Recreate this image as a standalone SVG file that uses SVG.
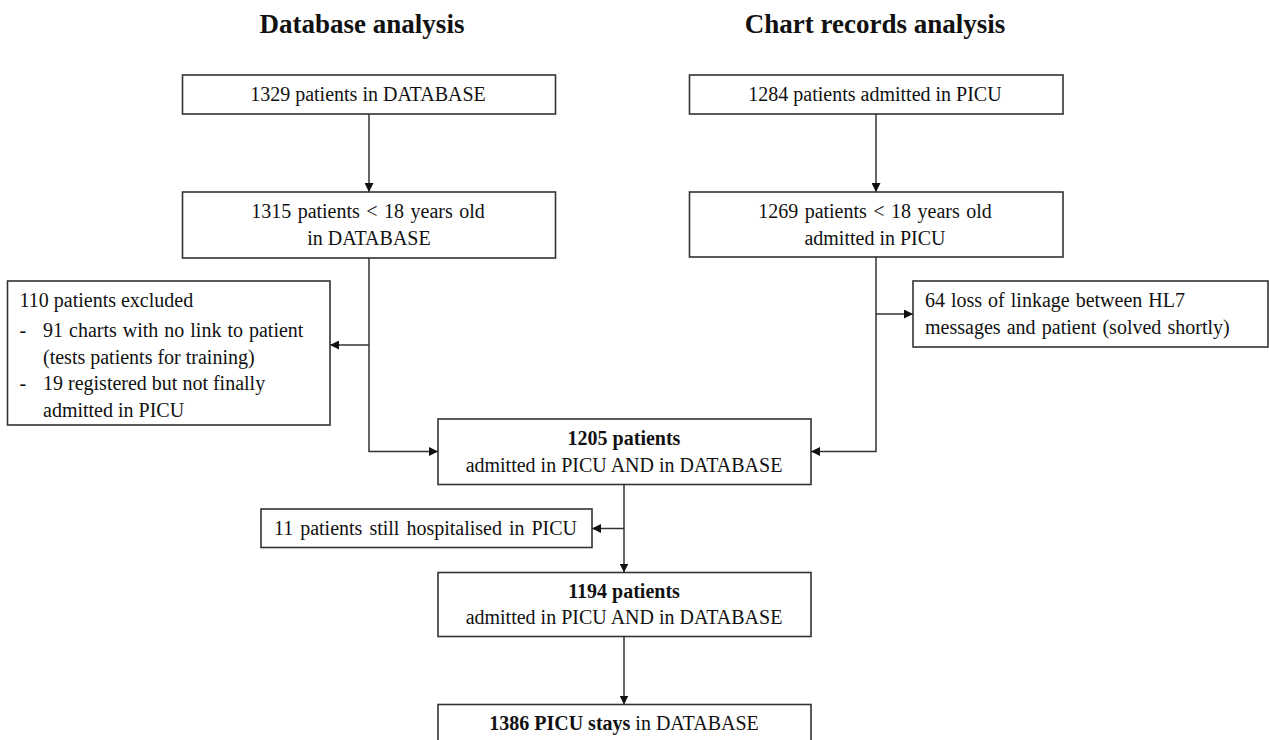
<svg xmlns="http://www.w3.org/2000/svg" width="1269" height="740" viewBox="0 0 1269 740">
<defs>
<style>
.box{fill:#fff;stroke:#333;stroke-width:1.6}
.t{font-family:"Liberation Serif","Times New Roman",serif;font-size:20px;fill:#111}
.c{text-anchor:middle}
.b{font-weight:bold}
.title{font-family:"Liberation Serif","Times New Roman",serif;font-size:27px;font-weight:bold;fill:#111;text-anchor:middle}
.ln{fill:none;stroke:#333;stroke-width:1.5}
</style>
<marker id="ah" viewBox="0 0 10 10" refX="10" refY="5" markerWidth="9" markerHeight="9" markerUnits="userSpaceOnUse" orient="auto">
<path d="M0,0 L10,5 L0,10 z" fill="#111"/>
</marker>
</defs>
<rect width="1269" height="740" fill="#fff"/>
<text class="title" x="362" y="33">Database analysis</text>
<text class="title" x="875" y="33">Chart records analysis</text>

<g id="connectors">
<path class="ln" d="M369,114 V192" marker-end="url(#ah)"/>
<path class="ln" d="M876,114 V192" marker-end="url(#ah)"/>
<path class="ln" d="M369,258 V451.5 H438" marker-end="url(#ah)"/>
<path class="ln" d="M369,345 H330" marker-end="url(#ah)"/>
<path class="ln" d="M876,257 V451.5 H811" marker-end="url(#ah)"/>
<path class="ln" d="M876,314 H913" marker-end="url(#ah)"/>
<path class="ln" d="M624,484.5 V572.5" marker-end="url(#ah)"/>
<path class="ln" d="M624,528.5 H592" marker-end="url(#ah)"/>
<path class="ln" d="M624,636.5 V704.5" marker-end="url(#ah)"/>
</g>

<g id="n1329">
<rect class="box" x="182.5" y="75" width="373" height="39"/>
<text class="t c" x="368" y="101">1329 patients  in DATABASE</text>
</g>
<g id="n1284">
<rect class="box" x="689.5" y="75" width="373.5" height="39"/>
<text class="t c" x="875" y="101">1284 patients  admitted  in  PICU</text>
</g>
<g id="n1315">
<rect class="box" x="182.5" y="192" width="373" height="66"/>
<text class="t c" x="368" y="218" word-spacing="1.5">1315 patients  &lt; 18 years  old</text>
<text class="t c" x="369" y="245">in DATABASE</text>
</g>
<g id="n1269">
<rect class="box" x="689.5" y="192" width="373.5" height="65"/>
<text class="t c" x="875" y="218" word-spacing="1.5">1269 patients  &lt; 18 years  old</text>
<text class="t c" x="875" y="245">admitted  in  PICU</text>
</g>
<g id="n110">
<rect class="box" x="7.5" y="281" width="322.5" height="144"/>
<text class="t" x="19.5" y="307">110 patients  excluded</text>
<text class="t" x="19.5" y="336.5">-</text>
<text class="t" x="43" y="336.5" word-spacing="1">91 charts with  no link  to patient</text>
<text class="t" x="43" y="364">(tests patients  for training)</text>
<text class="t" x="19.5" y="390">-</text>
<text class="t" x="43" y="390">19 registered  but not finally</text>
<text class="t" x="43" y="417">admitted  in  PICU</text>
</g>
<g id="n64">
<rect class="box" x="913" y="281" width="355" height="66"/>
<text class="t" x="925" y="306.5" word-spacing="1">64 loss of linkage  between HL7</text>
<text class="t" x="925" y="334" word-spacing="1.2">messages  and patient  (solved  shortly)</text>
</g>
<g id="n1205">
<rect class="box" x="438" y="419" width="373" height="65.5"/>
<text class="t c b" x="624" y="445">1205 patients</text>
<text class="t c" x="624" y="471.5">admitted  in  PICU AND in DATABASE</text>
</g>
<g id="n11">
<rect class="box" x="261" y="509" width="331" height="38.5"/>
<text class="t c" x="425.5" y="535" word-spacing="2">11 patients  still  hospitalised  in  PICU</text>
</g>
<g id="n1194">
<rect class="box" x="438" y="572.5" width="373" height="64"/>
<text class="t c b" x="624" y="598">1194 patients</text>
<text class="t c" x="624" y="624">admitted  in  PICU AND in DATABASE</text>
</g>
<g id="n1386">
<rect class="box" x="438" y="704.5" width="373" height="50"/>
<text class="t c" x="624" y="730"><tspan class="b">1386 PICU  stays</tspan> in DATABASE</text>
</g>
</svg>
